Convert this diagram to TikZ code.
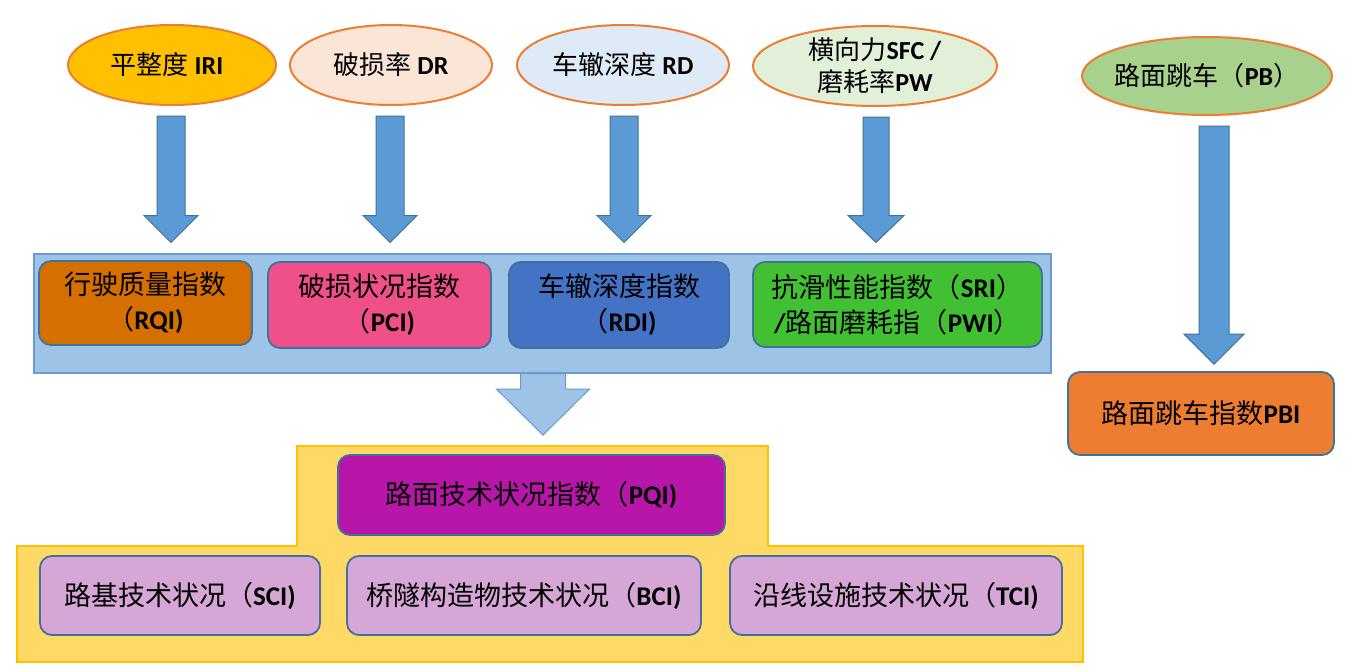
\documentclass[tikz,border=0pt]{standalone}
\usepackage{fontspec}
\setmainfont{Carlito}
\newfontfamily\zhfont{Noto Sans CJK SC}
\usetikzlibrary{shapes.geometric,calc}
\definecolor{ellB}{HTML}{ED7D31}
\definecolor{eA}{HTML}{FFC000}
\definecolor{eB}{HTML}{FBE5D6}
\definecolor{eC}{HTML}{DEEBF7}
\definecolor{eD}{HTML}{E2F0D9}
\definecolor{eE}{HTML}{A9D18E}
\definecolor{contF}{HTML}{9DC3E6}
\definecolor{contB}{HTML}{6A9AD0}
\definecolor{boxB}{HTML}{41719C}
\definecolor{rqiF}{HTML}{D46F00}
\definecolor{pciF}{HTML}{F0508A}
\definecolor{rdiF}{HTML}{4472C4}
\definecolor{sriF}{HTML}{40C032}
\definecolor{pbiF}{HTML}{ED7D31}
\definecolor{pqiF}{HTML}{B716A8}
\definecolor{lilF}{HTML}{D5A6D6}
\definecolor{yelF}{HTML}{FFD966}
\definecolor{yelB}{HTML}{FFC000}
\definecolor{arrF}{HTML}{5B9BD5}
\definecolor{arrB}{HTML}{41719C}
\newcommand\zh[1]{{\zhfont\mdseries #1}}
\newcommand\blockarrow[6]{%
  \draw[#1] let \p1=#2, \p2=#3 in
  (\x1-#4pt,\y1) -- (\x1+#4pt,\y1) -- (\x1+#4pt,\y2+#6pt) -- (\x1+#5pt,\y2+#6pt)
  -- (\x1,\y2) -- (\x1-#5pt,\y2+#6pt) -- (\x1-#4pt,\y2+#6pt) -- cycle;}
\tikzset{
  ell/.style={ellipse, draw=ellB, line width=2pt, inner sep=0pt, minimum height=80pt,
    align=center, font=\bfseries\fontsize{26}{32}\selectfont},
  ibox/.style={rectangle, rounded corners=12pt, draw=boxB, line width=1.8pt, inner sep=0pt,
    align=center, font=\bfseries\fontsize{27}{35}\selectfont},
  sarrow/.style={fill=arrF, draw=arrB, line width=1pt},
  barrowst/.style={fill=contF, draw=contB, line width=1pt}
}
\begin{document}
\begin{tikzpicture}[x=1pt,y=-1pt]
\useasboundingbox (0,0) rectangle (1350,672);
% top ellipses
\node[ell, fill=eA, minimum width=208pt] (e1) at (172,65) {\zh{平整度} IRI\hspace*{10pt}};
\node[ell, fill=eB, minimum width=202pt] (e2) at (391,65) {\zh{破损率} DR};
\node[ell, fill=eC, minimum width=212pt] (e3) at (623,65) {\zh{车辙深度} RD};
\node[ell, fill=eD, minimum width=244pt] (e4) at (875,66) {\zh{横向力}SFC /\\\zh{磨耗率}PW};
\node[ell, fill=eE, minimum width=250pt, minimum height=78pt, inner xsep=-12pt] (e5) at (1207,76) {\zh{路面跳车（}PB\zh{）}};
% blue container
\node[rectangle, fill=contF, draw=contB, line width=2pt, minimum width=1017pt, minimum height=119pt, inner sep=0pt] (cont) at (542,313) {};
\node[ibox, fill=rqiF, minimum width=213pt, minimum height=84pt] (rqi) at (145.5,303) {\zh{行驶质量指数}\\\zh{（}RQI)};
\node[ibox, fill=pciF, minimum width=223pt, minimum height=86pt] (pci) at (379.5,305) {\zh{破损状况指数}\\\zh{（}PCI)};
\node[ibox, fill=rdiF, minimum width=220pt, minimum height=86pt] (rdi) at (619,305) {\zh{车辙深度指数}\\\zh{（}RDI)};
\node[ibox, fill=sriF, minimum width=289pt, minimum height=85pt] (sri) at (897.5,304.5) {\zh{抗滑性能指数（}SRI\zh{）}\\/\zh{路面磨耗指（}PWI\zh{）}};
% PBI
\node[ibox, fill=pbiF, minimum width=266pt, minimum height=83pt] (pbi) at (1201,413.5) {\zh{路面跳车指数}PBI};
% yellow container
\draw[fill=yelF, draw=yelB, line width=2pt] (297,446) -- (768,446) -- (768,546) -- (1083,546) -- (1083,662) -- (17,662) -- (17,546) -- (297,546) -- cycle;
\node[ibox, fill=pqiF, minimum width=387pt, minimum height=80pt] (pqi) at (531.5,495) {\zh{路面技术状况指数（}PQI)};
\node[ibox, fill=lilF, minimum width=280pt, minimum height=79pt] (sci) at (180,595.5) {\zh{路基技术状况（}SCI)};
\node[ibox, fill=lilF, minimum width=354pt, minimum height=79pt] (bci) at (524,595.5) {\zh{桥隧构造物技术状况（}BCI)};
\node[ibox, fill=lilF, minimum width=332pt, minimum height=79pt] (tci) at (896,595.5) {\zh{沿线设施技术状况（}TCI)};
% arrows
\blockarrow{sarrow}{($(e1.south)+(-1,10)$)}{($(cont.north)+(0,-10)$)}{14}{27}{27}
\blockarrow{sarrow}{($(e2.south)+(-1,10)$)}{($(cont.north)+(0,-10)$)}{14}{27}{27}
\blockarrow{sarrow}{($(e3.south)+(1,10)$)}{($(cont.north)+(0,-10)$)}{14}{27}{27}
\blockarrow{sarrow}{($(e4.south)+(1,10)$)}{($(cont.north)+(0,-10)$)}{13}{28}{27}
\blockarrow{sarrow}{($(e5.south)+(7,10)$)}{($(pbi.north)+(0,-7)$)}{15}{30}{30}
\blockarrow{barrowst}{($(cont.south)+(1,0)$)}{($(pqi.north)+(0,-19)$)}{22.5}{46.5}{46}
\end{tikzpicture}
\end{document}
